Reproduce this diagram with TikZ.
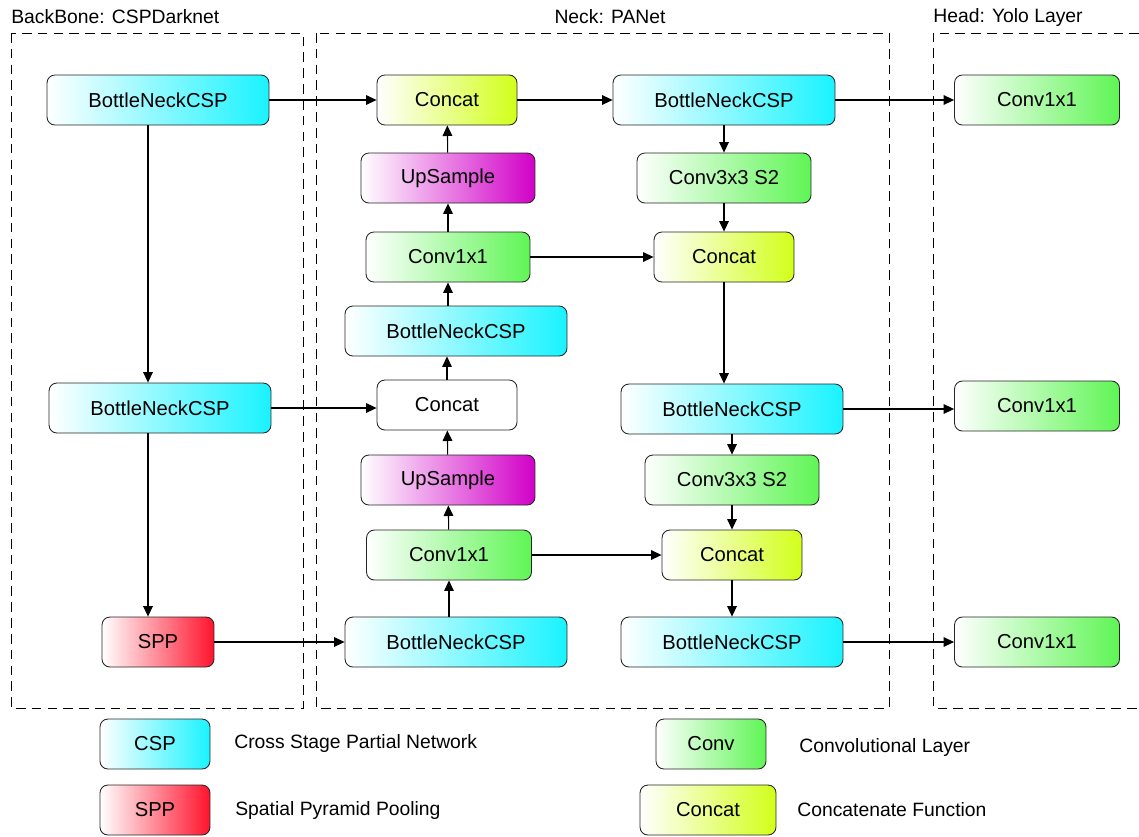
\documentclass[tikz,border=0pt]{standalone}
\usepackage{fontspec}
\setmainfont{Liberation Sans}
\usetikzlibrary{arrows.meta}

\definecolor{cspcyan}{RGB}{25,243,255}
\definecolor{convgreen}{RGB}{95,245,85}
\definecolor{catyellow}{RGB}{210,255,25}
\definecolor{upmagenta}{RGB}{210,0,200}
\definecolor{sppred}{RGB}{255,20,45}

\tikzset{
	blk/.style={draw=black!85, line width=0.5pt, rounded corners=4.5pt, minimum height=1cm,
		inner sep=0pt, font=\fontsize{11.5}{13}\selectfont, left color=white},
	csp/.style={blk, right color=cspcyan, minimum width=4.44cm},
	conv/.style={blk, right color=convgreen},
	cat/.style={blk, right color=catyellow, minimum width=2.8cm},
	up/.style={blk, right color=upmagenta, minimum width=3.48cm},
	spp/.style={blk, right color=sppred, minimum width=2.24cm},
	arr/.style={-{Triangle[length=6pt,width=5.5pt]}, line width=0.6pt},
	region/.style={dashed, dash pattern=on 5.5pt off 3.5pt, line width=0.5pt},
	lbl/.style={anchor=west, inner sep=0pt, font=\fontsize{11}{13}\selectfont}
}

\begin{document}
\begin{tikzpicture}[x=0.02cm, y=-0.02cm]
	\useasboundingbox (0,0) rectangle (1139,836);

	% regions
	\draw[region] (11,33) rectangle (303,708);
	\draw[region] (316,33) rectangle (889,708);
	\draw[region] (1139,33) -- (933,33) -- (933,708) -- (1139,708);
	\node[lbl] (tback) at (11,17) {BackBone: CSPDarknet};
	\node[lbl, anchor=center] (tneck) at (610,17) {Neck: PANet};
	\node[lbl] (thead) at (933,17) {Head: Yolo Layer};

	% backbone
	\node[csp] (B1) at (158,100) {BottleNeckCSP};
	\node[csp] (B2) at (160,408) {BottleNeckCSP};
	\node[spp] (S1) at (158,642) {SPP};
	\coordinate (bline) at (148,0);

	% neck, left column
	\node[cat] (N1) at (447,100) {Concat};
	\node[up] (N2) at (448,178) {UpSample};
	\node[conv, minimum width=3.28cm] (N3) at (448,257) {Conv1x1};
	\node[csp] (N4) at (456,331) {BottleNeckCSP};
	\node[blk, fill=white, minimum width=2.8cm] (N5) at (447,405) {Concat};
	\node[up] (N6) at (448,480) {UpSample};
	\node[conv, minimum width=3.3cm] (N7) at (449,555) {Conv1x1};
	\node[csp] (N8) at (456,642) {BottleNeckCSP};

	% neck, right column
	\node[csp] (M1) at (724,100) {BottleNeckCSP};
	\node[conv, minimum width=3.48cm] (M2) at (724,178) {Conv3x3 S2};
	\node[cat] (M3) at (724,257) {Concat};
	\node[csp] (M4) at (732,409) {BottleNeckCSP};
	\node[conv, minimum width=3.48cm] (M5) at (732,480) {Conv3x3 S2};
	\node[cat] (M6) at (732,555) {Concat};
	\node[csp] (M7) at (732,642) {BottleNeckCSP};

	% head
	\node[conv, minimum width=3.3cm] (H1) at (1037,100) {Conv1x1};
	\node[conv, minimum width=3.3cm] (H2) at (1037,406) {Conv1x1};
	\node[conv, minimum width=3.3cm] (H3) at (1037,642) {Conv1x1};

	% connections
	\draw[arr] (bline |- B1.south) -- (bline |- B2.north);
	\draw[arr] (bline |- B2.south) -- (bline |- S1.north);
	\draw[arr] (B1) -- (N1);
	\draw[arr] (B2.east) -- (B2.east -| N5.west);
	\draw[arr] (S1) -- (N8);

	\draw[arr] (N8.north -| N7.south) -- (N7.south);
	\draw[arr] (N7) -- (N6);
	\draw[arr] (N6) -- (N5);
	\draw[arr] (N5.north) -- (N5.north |- N4.south);
	\draw[arr] (N4.north -| N3.south) -- (N3.south);
	\draw[arr] (N3) -- (N2);
	\draw[arr] (N2) -- (N1);

	\draw[arr] (N1) -- (M1);
	\draw[arr] (N3) -- (M3);
	\draw[arr] (N7) -- (M6);
	\draw[arr] (M1) -- (M2);
	\draw[arr] (M2) -- (M3);
	\draw[arr] (M3.south) -- (M3.south |- M4.north);
	\draw[arr] (M4) -- (M5);
	\draw[arr] (M5) -- (M6);
	\draw[arr] (M6) -- (M7);

	\draw[arr] (M1) -- (H1);
	\draw[arr] (M4.east) -- (M4.east -| H2.west);
	\draw[arr] (M7) -- (H3);

	% legend
	\node[csp, minimum width=2.2cm] (L1) at (155,744) {CSP};
	\node[spp, minimum width=2.2cm] (L2) at (155,810) {SPP};
	\node[conv, minimum width=2.2cm] (L3) at (711,744) {Conv};
	\node[cat, minimum width=2.72cm] (L4) at (708,810) {Concat};
	\node[lbl] (T1) at (234,743) {Cross Stage Partial Network};
	\node[lbl] (T2) at (235,810) {Spatial Pyramid Pooling};
	\node[lbl] (T3) at (799,747) {Convolutional Layer};
	\node[lbl] (T4) at (797,810) {Concatenate Function};
\end{tikzpicture}
\end{document}
